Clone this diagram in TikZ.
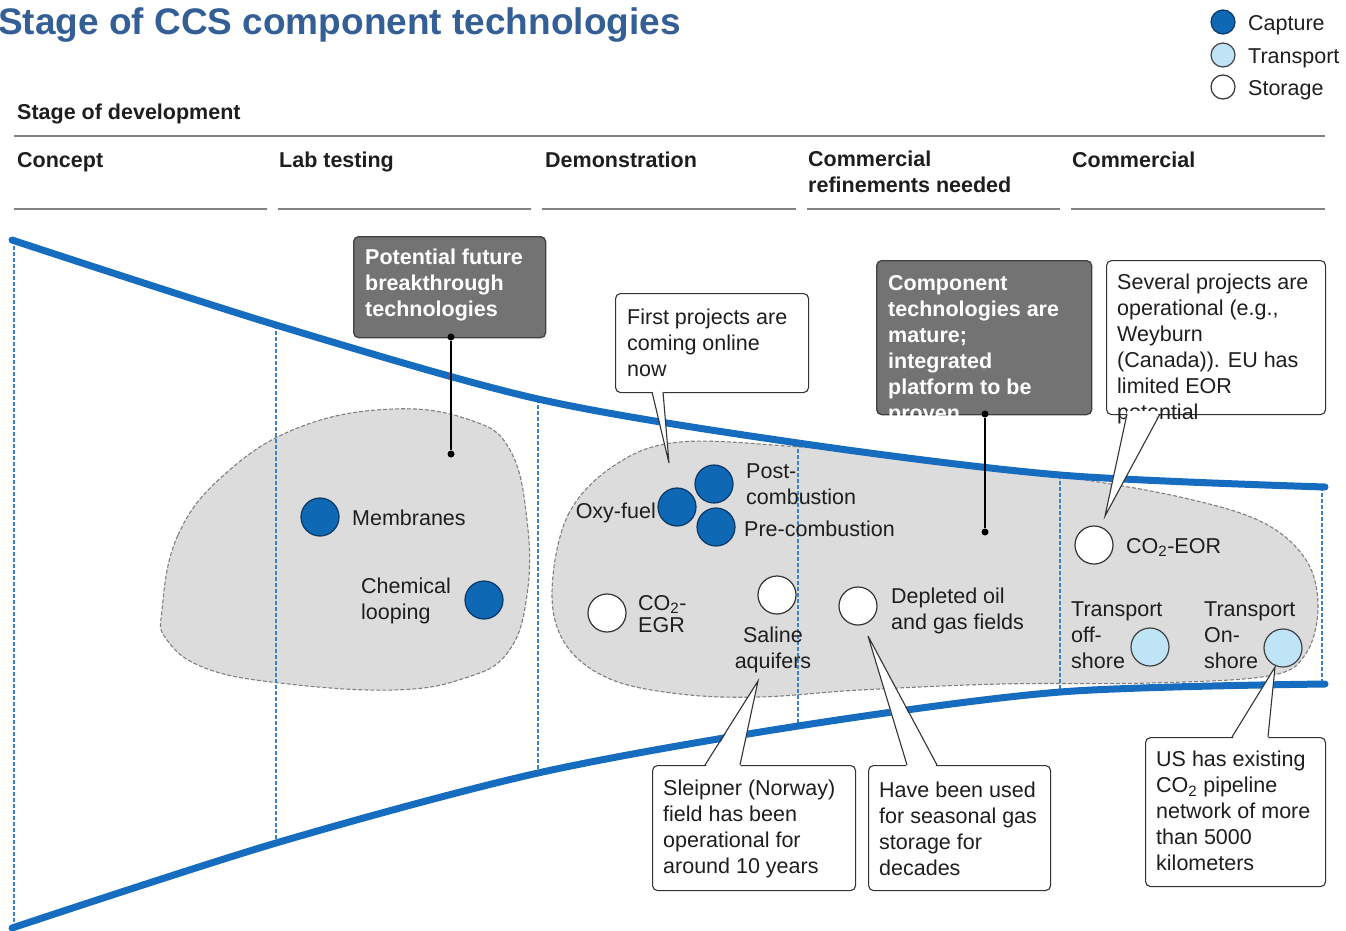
\documentclass[tikz,border=0pt]{standalone}
\usepackage{fontspec}
\setmainfont{Liberation Sans}
\definecolor{titleblue}{RGB}{52,94,150}
\definecolor{funnel}{RGB}{22,108,190}
\definecolor{capfill}{RGB}{14,104,180}
\definecolor{capdraw}{RGB}{10,55,100}
\definecolor{transfill}{RGB}{190,228,245}
\definecolor{blobfill}{RGB}{220,220,220}
\definecolor{darkfill}{RGB}{115,115,115}
\definecolor{txt}{RGB}{30,30,30}
\definecolor{rule}{RGB}{130,130,130}
\begin{document}
\begin{tikzpicture}[x=1pt,y=-1pt,
  body/.style={font=\fontsize{21.5}{26}\selectfont, text=txt, inner sep=0, align=left},
  hdr/.style={font=\bfseries\fontsize{21.5}{26}\selectfont, text=txt, inner sep=0, align=left},
  wbold/.style={font=\bfseries\fontsize{21.5}{26}\selectfont, text=white, inner sep=0, align=left},
  capture/.style={circle, minimum size=38, inner sep=0, fill=capfill, draw=capdraw, line width=1.2},
  storage/.style={circle, minimum size=38, inner sep=0, fill=white, draw=black!80, line width=1.2},
  transport/.style={circle, minimum size=38, inner sep=0, fill=transfill, draw=black!75, line width=1.2},
  callbox/.style={draw=black!80, fill=white, rounded corners=5, line width=1.1, inner sep=0},
  darkbox/.style={draw=black!75, fill=darkfill, rounded corners=5, line width=1.3, inner sep=0},
  vdash/.style={draw=funnel!85, line width=1.1, dash pattern=on 4pt off 2pt},
  funnelline/.style={draw=funnel, line width=7, line cap=round},
  hrule/.style={draw=rule, line width=2},
  blob/.style={fill=blobfill, draw=black!50, line width=1.1, dash pattern=on 4pt off 2pt},
  tail/.style={draw=black!80, line width=1.1, line join=miter},
  pin/.style={draw=black, line width=1.5},
  pindot/.style={circle, fill=black, inner sep=0, minimum size=7}
]
\useasboundingbox (0,0) rectangle (1346,930);

% title
\node[anchor=base west, inner sep=0, text=titleblue, font=\bfseries\fontsize{37}{44}\selectfont] (title) at (-2,34) {Stage of CCS component technologies};

% legend
\node[capture, minimum size=24] (lc) at (1223,22) {};
\node[transport, minimum size=24] (lt) at (1223,55) {};
\node[storage, minimum size=24] (ls) at (1223,87) {};
\node[body, anchor=base west] (lcl) at (1248,30) {Capture};
\node[body, anchor=base west] (ltl) at (1248,63) {Transport};
\node[body, anchor=base west] (lsl) at (1248,95) {Storage};

% stage headers
\node[hdr, anchor=base west] (sod) at (17,119) {Stage of development};
\draw[hrule] (14,136) -- (1325,136);
\node[hdr, anchor=base west] (h1) at (17,167) {Concept};
\node[hdr, anchor=base west] (h2) at (279,167) {Lab testing};
\node[hdr, anchor=base west] (h3) at (545,167) {Demonstration};
\node[hdr, anchor=west] (h4) at (808,172) {Commercial\\refinements needed};
\node[hdr, anchor=base west] (h5) at (1072,167) {Commercial};
\draw[hrule] (14,209) -- (267,209);
\draw[hrule] (278,209) -- (531,209);
\draw[hrule] (542,209) -- (796,209);
\draw[hrule] (807,209) -- (1060,209);
\draw[hrule] (1071,209) -- (1325,209);

% blobs
\path[blob] plot[smooth cycle, tension=0.7] coordinates {
  (162,610) (178,535) (225,474) (300,427) (393,409) (470,420) (510,450)
  (527,520) (527,595) (508,652) (465,678) (393,690) (280,683) (205,668) (167,640)};
\path[blob] plot[smooth cycle, tension=0.6] coordinates {
  (552,592) (568,515) (615,465) (680,442) (800,447) (940,460) (1060,476)
  (1180,497) (1262,522) (1306,560) (1318,608) (1305,655) (1268,676)
  (1150,683) (1000,684) (860,690) (760,697) (680,694) (610,679) (566,645)};

% dashed stage dividers
\draw[vdash] (14,240) -- (14,928);
\draw[vdash] (276,325) -- (276,843);
\draw[vdash] (538,399) -- (538,773);
\draw[vdash] (798,443) -- (798,726);
\draw[vdash] (1060,475) -- (1060,692);
\draw[vdash] (1322,487) -- (1322,684);

% funnel
\draw[funnelline] plot[smooth, tension=0.5] coordinates {(12,240) (276,325) (538,399) (798,443) (1060,475) (1325,487)};
\draw[funnelline] plot[smooth, tension=0.5] coordinates {(12,928) (276,843) (538,773) (798,726) (1060,692) (1325,684)};

% lab testing items
\node[capture] (memb) at (320,517) {};
\node[body, anchor=base west] (membl) at (352,525) {Membranes};
\node[capture] (chem) at (484,600) {};
\node[body, anchor=west] (cheml) at (361,601) {Chemical\\looping};

% demonstration items
\node[capture] (oxy) at (677,507) {};
\node[capture] (post) at (714,484) {};
\node[capture] (pre) at (716,527) {};
\node[body, anchor=base east] (oxyl) at (656,518) {Oxy-fuel};
\node[body, anchor=west] (postl) at (746,484) {Post-\\combustion};
\node[body, anchor=base west] (prel) at (744,536) {Pre-combustion};
\node[storage] (egr) at (607,613) {};
\node[body, anchor=west] (egrl) at (638,614) {CO\textsubscript{2}-\\[-4pt]EGR};
\node[storage] (sal) at (777,595) {};
\node[body, anchor=center, align=center] (sall) at (773,650) {Saline\\aquifers};
\node[storage] (depl) at (858,606) {};
\node[body, anchor=west] (depll) at (891,611) {Depleted oil\\and gas fields};

% commercial items
\node[storage] (eor) at (1094,545) {};
\node[body, anchor=base west] (eorl) at (1126,553) {CO\textsubscript{2}-EOR};
\node[transport] (off) at (1150,647) {};
\node[body, anchor=west] (offl) at (1071,635) {Transport\\off-\\shore};
\node[transport] (on) at (1283,648) {};
\node[body, anchor=west] (onl) at (1204,635) {Transport\\On-\\shore};

% dark boxes with pins
\node[darkbox, anchor=north west, minimum width=192, minimum height=101] (pft) at (353,236) {};
\node[wbold, anchor=west] (pftt) at (365,285) {Potential future\\breakthrough\\technologies};
\node[pindot] (pfa) at (451,337) {};
\node[pindot] (pfb) at (451,454) {};
\draw[pin] (pfa) -- (pfb);

\node[darkbox, anchor=north west, minimum width=215, minimum height=154] (ctm) at (876,260) {};
\node[wbold, anchor=west] (ctmt) at (888,350) {Component\\technologies are\\mature;\\integrated\\platform to be\\proven};
\node[pindot] (cta) at (985,414) {};
\node[pindot] (ctb) at (985,532) {};
\draw[pin] (cta) -- (ctb);

% callout: first projects
\node[callbox, anchor=north west, minimum width=193, minimum height=99] (fp) at (615,293) {};
\coordinate (fptip) at (669,463);
\fill[white] (652,389) -- (fptip) -- (663,389) -- cycle;
\draw[tail] (652,392) -- (fptip) -- (663,392);
\node[body, anchor=west] (fpt) at (627,343) {First projects are\\coming online\\now};

% callout: several projects
\node[callbox, anchor=north west, minimum width=219, minimum height=154] (sp) at (1106,260) {};
\node[body, anchor=west] (spt) at (1117,349) {Several projects are\\operational (e.g.,\\Weyburn\\(Canada)). EU has\\limited EOR\\potential};
\coordinate (sptip) at (1105,516);
\fill[white] (1127,411) -- (sptip) -- (1160,411) -- cycle;
\draw[tail] (1127,414) -- (sptip) -- (1160,414);

% callout: sleipner
\node[callbox, anchor=north west, minimum width=203, minimum height=125] (sl) at (652,765) {};
\coordinate (sltip) at (758,681);
\fill[white] (705,768) -- (sltip) -- (740,768) -- cycle;
\draw[tail] (705,765) -- (sltip) -- (740,765);
\node[body, anchor=west] (slt) at (663,829) {Sleipner (Norway)\\field has been\\operational for\\around 10 years};

% callout: have been used
\node[callbox, anchor=north west, minimum width=182, minimum height=125] (hb) at (868,765) {};
\coordinate (hbtip) at (868,636);
\fill[white] (907,768) -- (hbtip) -- (937,768) -- cycle;
\draw[tail] (907,765) -- (hbtip) -- (937,765);
\node[body, anchor=west] (hbt) at (879,829) {Have been used\\for seasonal gas\\storage for\\decades};

% callout: US pipeline
\node[callbox, anchor=north west, minimum width=180, minimum height=149] (us) at (1145,737) {};
\coordinate (ustip) at (1275,667);
\fill[white] (1232,740) -- (ustip) -- (1268,740) -- cycle;
\draw[tail] (1232,737) -- (ustip) -- (1268,737);
\node[body, anchor=west] (ust) at (1156,811) {US has existing\\CO\textsubscript{2} pipeline\\network of more\\than 5000\\kilometers};
\end{tikzpicture}
\end{document}
